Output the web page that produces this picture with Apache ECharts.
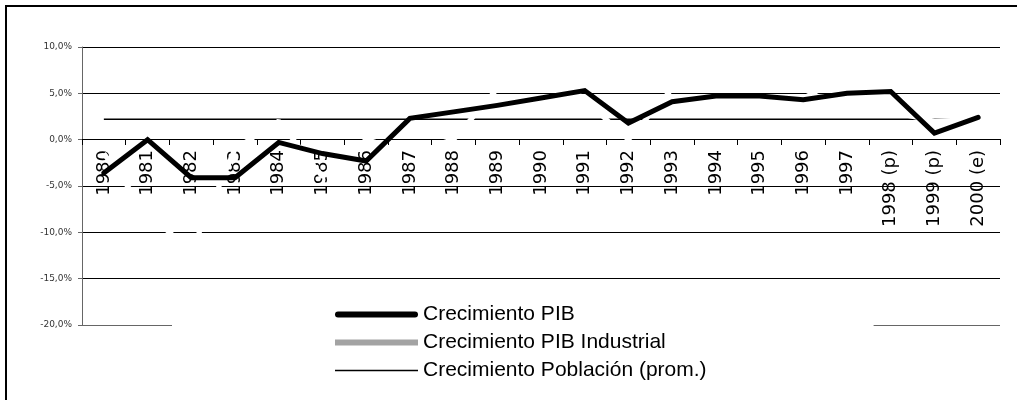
<!DOCTYPE html>
<html>
<head>
<meta charset="utf-8">
<script src="https://cdn.jsdelivr.net/npm/echarts@6/dist/echarts.min.js"></script>
<style>
  html, body { margin: 0; padding: 0; background: #fff; }
  #myChart { width: 1017px; height: 400px; }
</style>
</head>
<body>
<div id="myChart"></div>
<script>
// categorias (eje X)
var years = ['1980', '1981', '1982', '1983', '1984', '1985', '1986', '1987', '1988', '1989', '1990',
             '1991', '1992', '1993', '1994', '1995', '1996', '1997', '1998 (p)', '1999 (p)', '2000 (e)'];
// Crecimiento PIB (%)
var pib = [-3.6, 0.0, -4.1, -4.1, -0.3, -1.5, -2.3, 2.3, 3.0, 3.7, 4.5,
           5.3, 1.8, 4.1, 4.7, 4.7, 4.3, 5.0, 5.2, 0.7, 2.4];
// Crecimiento PIB Industrial (%) - en el original sale casi blanco, estimado de los cortes
var pibIndustrial = [-1.5, -8, -12, -1, 2, -4, 0, 1.5, 0, 5.5, 8.5,
                     4.3, 0, 5.5, 6, 6, 5.5, 3, 3, 2, 2.2];
// Crecimiento Poblacion promedio (%)
var poblacion = [2.2, 2.2, 2.2, 2.2, 2.2, 2.2, 2.2, 2.2, 2.2, 2.2, 2.2,
                 2.2, 2.2, 2.2, 2.2, 2.2, 2.2, 2.2, 2.2, 2.2, 2.2];
// eje Y
var yMin = -20, yMax = 10, yStep = 5;

var myChart = echarts.init(document.getElementById('myChart'));
var option = {
    animation: false,
    backgroundColor: '#fff',
    graphic: [{
        type: 'rect',
        silent: true,
        shape: { x: 6, y: 6, width: 1040, height: 430 },
        style: { fill: 'none', stroke: '#000', lineWidth: 2 }
    }],
    grid: { left: 82, right: 17, top: 47, bottom: 75, containLabel: false, outerBoundsMode: 'none' },
    legend: {
        orient: 'vertical',
        left: 172,
        top: 294,
        padding: [10, 167, 4, 163],
        backgroundColor: '#fff',
        itemWidth: 83,
        itemHeight: 6,
        itemGap: 7,
        textStyle: { fontFamily: 'Liberation Sans', fontSize: 21, color: '#000' },
        data: [
            { name: 'Crecimiento PIB',
              icon: 'path://M3,0 L80,0 A3,3 0 0 1 80,6 L3,6 A3,3 0 0 1 3,0 Z',
              itemStyle: { color: '#000', borderWidth: 0 } },
            { name: 'Crecimiento PIB Industrial',
              icon: 'rect',
              itemStyle: { color: '#a3a3a3', borderWidth: 0 } },
            { name: 'Crecimiento Población (prom.)',
              icon: 'path://M0,0 L0,0 M0,2.3 L83,2.3 L83,3.7 L0,3.7 Z M83,6 L83,6',
              itemStyle: { color: '#000', borderWidth: 0 } }
        ]
    },
    xAxis: {
        type: 'category',
        data: years,
        boundaryGap: true,
        // el eje cruza en 0%: se sube desde el borde inferior del grid
        offset: -186,
        axisLine: { onZero: false, lineStyle: { color: '#000', width: 1 } },
        axisTick: { show: true, length: 6, lineStyle: { color: '#000' } },
        axisLabel: {
            interval: 0,
            rotate: 90,
            margin: 11,
            fontFamily: 'DejaVu Sans',
            fontSize: 18,
            color: '#000'
        },
        splitLine: { show: false }
    },
    yAxis: {
        type: 'value',
        min: yMin,
        max: yMax,
        interval: yStep,
        axisLine: { show: true, lineStyle: { color: '#666' } },
        axisTick: { show: true, length: 4, lineStyle: { color: '#666' } },
        axisLabel: {
            margin: 10,
            fontFamily: 'DejaVu Sans',
            fontSize: 9,
            color: '#333',
            formatter: function (v) { return v.toFixed(1).replace('.', ',') + '%'; }
        },
        splitLine: {
            show: true,
            lineStyle: { color: ['#666', '#000', '#000', '#000', '#000', '#000', '#000'], width: 1 }
        }
    },
    series: [
        {
            name: 'Crecimiento Población (prom.)',
            type: 'line',
            data: poblacion,
            symbol: 'none',
            itemStyle: { color: '#000' },
            lineStyle: { color: '#000', width: 1.5 }
        },
        {
            name: 'Crecimiento PIB Industrial',
            type: 'line',
            data: pibIndustrial,
            symbol: 'none',
            itemStyle: { color: '#fff' },
            lineStyle: { color: '#fff', width: 5 }
        },
        {
            name: 'Crecimiento PIB',
            type: 'line',
            data: pib,
            symbol: 'none',
            itemStyle: { color: '#000' },
            lineStyle: { color: '#000', width: 5, cap: 'round', join: 'miter' }
        }
    ]
};
myChart.setOption(option);
</script>
</body>
</html>
